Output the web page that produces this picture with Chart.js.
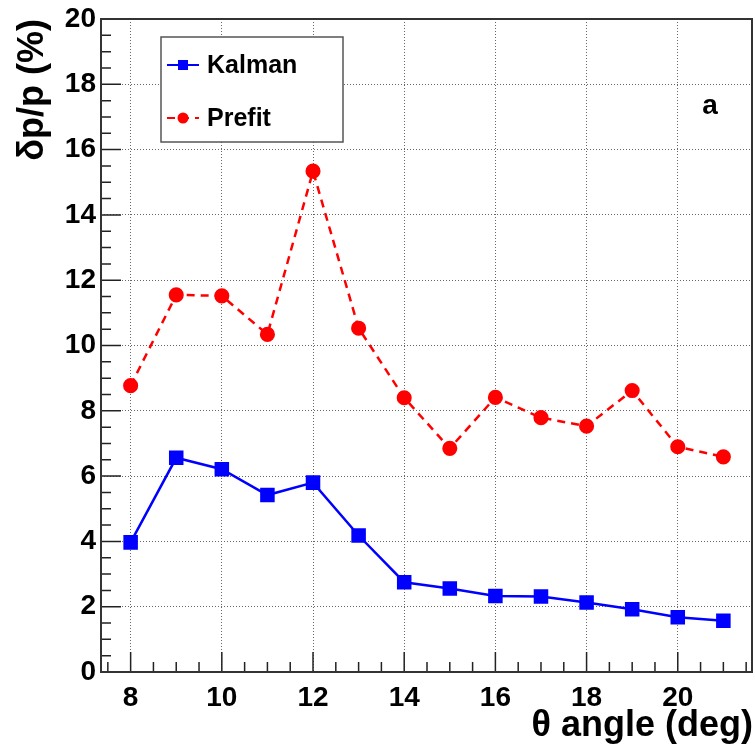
<!DOCTYPE html>
<html lang="en">
<head>
    <meta charset="UTF-8">
    <title>dp/p vs theta</title>
    <script src="https://cdn.jsdelivr.net/npm/chart.js"></script>
    <style>
        html, body { margin: 0; padding: 0; background: #fff; }
        .chart-container { width: 755px; height: 753px; }
    </style>
</head>
<body>
    <div class="chart-container">
        <canvas id="resChart" width="755" height="753"></canvas>
    </div>

    <script>
        // data
        const angles = [8, 9, 10, 11, 12, 13, 14, 15, 16, 17, 18, 19, 20, 21];
        const kalman = [3.97, 6.56, 6.21, 5.42, 5.80, 4.18, 2.75, 2.56, 2.33, 2.31, 2.13, 1.92, 1.68, 1.57];
        const prefit = [8.77, 11.55, 11.52, 10.34, 15.34, 10.53, 8.40, 6.85, 8.41, 7.79, 7.53, 8.62, 6.90, 6.59];
        const xTicks = [8, 10, 12, 14, 16, 18, 20];
        const yTicks = [0, 2, 4, 6, 8, 10, 12, 14, 16, 18, 20];

        const FONT = "'Liberation Sans', Arial, sans-serif";

        // frame, ROOT style ticks, legend box and the "a" label
        const rootStyle = {
            id: "rootStyle",
            afterDraw(chart) {
                const ctx = chart.ctx;
                const a = chart.chartArea;
                const xs = chart.scales.x, ys = chart.scales.y;
                ctx.save();

                // ticks
                ctx.strokeStyle = "#222";
                ctx.lineWidth = 1.5;
                ctx.beginPath();
                for (let v = 0.5; v < 20; v += 0.5) {
                    const py = ys.getPixelForValue(v);
                    const len = (v % 2 === 0) ? 20 : 10;
                    ctx.moveTo(a.left, py);
                    ctx.lineTo(a.left + len, py);
                }
                for (let v = 7.5; v <= 21.5; v += 0.5) {
                    const px = xs.getPixelForValue(v);
                    const len = (v % 2 === 0) ? 20 : 10;
                    ctx.moveTo(px, a.bottom);
                    ctx.lineTo(px, a.bottom - len);
                }
                ctx.stroke();

                // frame
                ctx.lineWidth = 2;
                ctx.strokeStyle = "#333";
                ctx.strokeRect(a.left, a.top, a.right - a.left - 1, a.bottom - a.top);

                // legend
                const lx = 161, ly = 37, lw = 182, lh = 105;
                ctx.fillStyle = "#fff";
                ctx.fillRect(lx, ly, lw, lh);
                ctx.lineWidth = 1.5;
                ctx.strokeStyle = "#555";
                ctx.strokeRect(lx, ly, lw, lh);

                chart.data.datasets.forEach((ds, i) => {
                    const cy = ly + 28 + i * 53;
                    ctx.strokeStyle = ds.borderColor;
                    ctx.lineWidth = 2;
                    ctx.setLineDash(ds.borderDash || []);
                    ctx.beginPath();
                    ctx.moveTo(167, cy);
                    ctx.lineTo(199, cy);
                    ctx.stroke();
                    ctx.setLineDash([]);
                    ctx.fillStyle = ds.pointBackgroundColor;
                    if (ds.pointStyle === "rect") {
                        ctx.fillRect(178, cy - 5, 10, 10);
                    } else {
                        ctx.beginPath();
                        ctx.arc(183, cy, 5.5, 0, Math.PI * 2);
                        ctx.fill();
                    }
                    ctx.fillStyle = "#000";
                    ctx.font = "bold 25px " + FONT;
                    ctx.textBaseline = "middle";
                    ctx.textAlign = "left";
                    ctx.fillText(ds.label, 207, cy + 1);
                });

                // panel label
                ctx.font = "bold 28px " + FONT;
                ctx.textAlign = "center";
                ctx.textBaseline = "middle";
                ctx.fillStyle = "#000";
                ctx.fillText("a", 710, 106);
                ctx.restore();
            }
        };

        const ctx = document.getElementById("resChart").getContext("2d");
        new Chart(ctx, {
            type: "line",
            data: {
                datasets: [{
                    label: "Kalman",
                    data: angles.map((x, i) => ({ x: x, y: kalman[i] })),
                    borderColor: "#0000ff",
                    backgroundColor: "#0000ff",
                    pointBackgroundColor: "#0000ff",
                    pointBorderColor: "#0000ff",
                    pointStyle: "rect",
                    pointRadius: 8.5,
                    borderWidth: 2.5,
                    tension: 0,
                }, {
                    label: "Prefit",
                    data: angles.map((x, i) => ({ x: x, y: prefit[i] })),
                    borderColor: "#ff0000",
                    backgroundColor: "#ff0000",
                    pointBackgroundColor: "#ff0000",
                    pointBorderColor: "#ff0000",
                    pointStyle: "circle",
                    pointRadius: 6.3,
                    borderWidth: 2.5,
                    borderDash: [8, 6],
                    tension: 0,
                }]
            },
            options: {
                responsive: false,
                animation: false,
                layout: { autoPadding: false, padding: { top: 19, right: 2, left: 0, bottom: 0 } },
                plugins: {
                    legend: { display: false },
                    tooltip: { enabled: false },
                },
                scales: {
                    x: {
                        type: "linear",
                        min: 7.35,
                        max: 21.65,
                        afterBuildTicks: (s) => { s.ticks = xTicks.map(v => ({ value: v })); },
                        afterFit: (s) => { s.height = 81; s.paddingLeft = 0; s.paddingRight = 0; },
                        grid: { color: "#666", lineWidth: 1, drawTicks: false },
                        border: { display: false, dash: [1, 2] },
                        ticks: {
                            color: "#000",
                            padding: 9,
                            font: { family: FONT, size: 28, weight: "bold" },
                        },
                        title: {
                            display: true,
                            text: "θ angle (deg)",
                            align: "end",
                            color: "#000",
                            font: { family: FONT, size: 36, weight: "bold" },
                            padding: { top: 0, bottom: 5 },
                        },
                    },
                    y: {
                        min: 0,
                        max: 20,
                        afterBuildTicks: (s) => { s.ticks = yTicks.map(v => ({ value: v })); },
                        afterFit: (s) => { s.width = 101; s.paddingTop = 0; s.paddingBottom = 0; },
                        grid: { color: "#666", lineWidth: 1, drawTicks: false },
                        border: { display: false, dash: [1, 2] },
                        ticks: {
                            color: "#000",
                            padding: 5,
                            font: { family: FONT, size: 28, weight: "bold" },
                        },
                        title: {
                            display: true,
                            text: "δp/p (%)",
                            align: "end",
                            color: "#000",
                            font: { family: FONT, size: 36, weight: "bold" },
                            padding: { top: 11, bottom: 0 },
                        },
                    },
                },
            },
            plugins: [rootStyle],
        });
    </script>
</body>
</html>
